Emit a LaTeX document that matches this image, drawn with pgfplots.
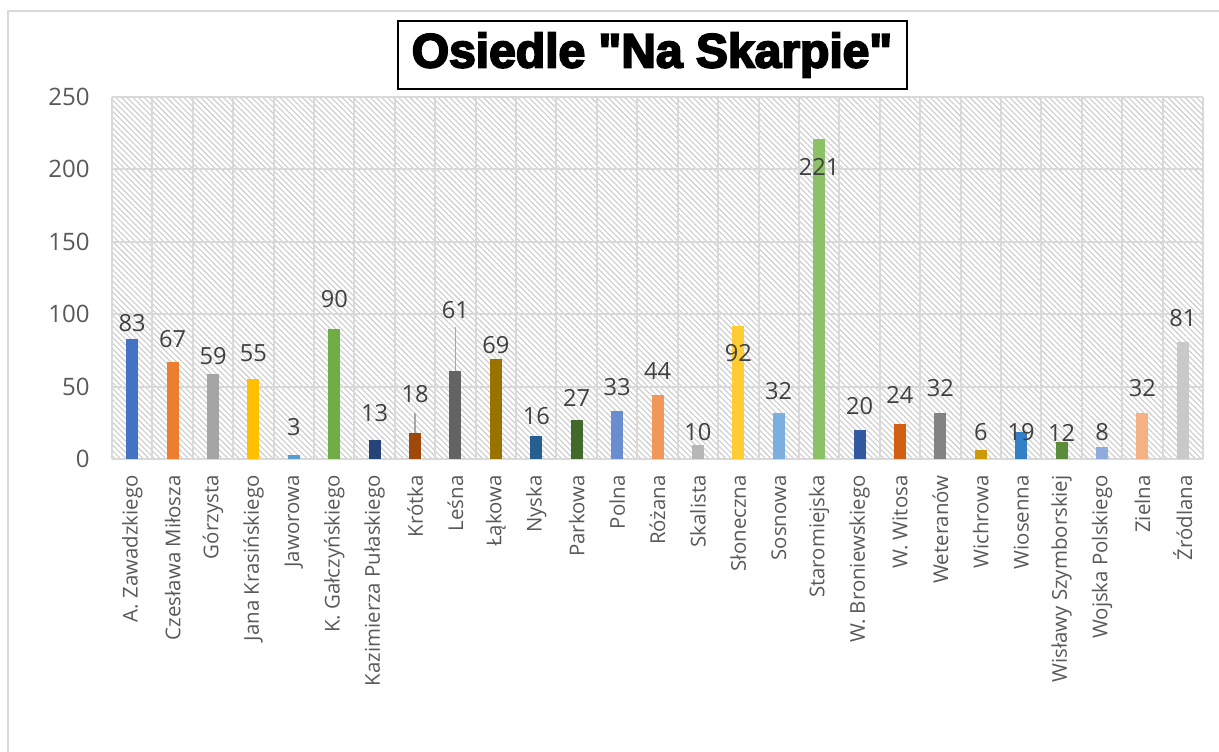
\documentclass[border=0pt]{standalone}
\usepackage{fontspec}
\setmainfont{Open Sans}
\newfontfamily\titlefont{Liberation Sans Bold}[FakeBold=4]
\usepackage{pgfplots}
\pgfplotsset{compat=1.18}
\usetikzlibrary{patterns.meta}
\definecolor{gridc}{HTML}{D9D9D9}
\definecolor{hatchc}{HTML}{CCCCCC}
\definecolor{tickc}{HTML}{595959}
\definecolor{labc}{HTML}{404040}
\definecolor{leadc}{HTML}{A6A6A6}
\definecolor{c1}{HTML}{4472C4}
\definecolor{c2}{HTML}{ED7D31}
\definecolor{c3}{HTML}{A5A5A5}
\definecolor{c4}{HTML}{FFC000}
\definecolor{c5}{HTML}{5B9BD5}
\definecolor{c6}{HTML}{70AD47}
\definecolor{c7}{HTML}{264478}
\definecolor{c8}{HTML}{9E480E}
\definecolor{c9}{HTML}{636363}
\definecolor{c10}{HTML}{997300}
\definecolor{c11}{HTML}{255E91}
\definecolor{c12}{HTML}{43682B}
\definecolor{c13}{HTML}{698ED0}
\definecolor{c14}{HTML}{F1975A}
\definecolor{c15}{HTML}{B7B7B7}
\definecolor{c16}{HTML}{FFCD33}
\definecolor{c17}{HTML}{7CAFDD}
\definecolor{c18}{HTML}{8CC168}
\definecolor{c19}{HTML}{335AA1}
\definecolor{c20}{HTML}{D26012}
\definecolor{c21}{HTML}{838383}
\definecolor{c22}{HTML}{CC9A06}
\definecolor{c23}{HTML}{3480C6}
\definecolor{c24}{HTML}{5B8C3A}
\definecolor{c25}{HTML}{8FAADC}
\definecolor{c26}{HTML}{F4B183}
\definecolor{c27}{HTML}{C9C9C9}
\newcommand\B[4]{\addplot[fill=#3, draw=none, nodes near coords style={yshift=#4}] coordinates {(#1,#2)};}
\begin{document}
\begin{tikzpicture}
\useasboundingbox (0,0) rectangle (609.5pt,-375.5pt);
\draw[color=gridc, line width=0.8pt] (4pt,-380pt) -- (4pt,-5.5pt) -- (615pt,-5.5pt);
\begin{axis}[
  at={(56pt,-229.5pt)}, anchor=south west,
  scale only axis, width=545.5pt, height=181pt,
  xmin=-0.5, xmax=26.5, ymin=0, ymax=250,
  ytick={0,50,...,250},
  xtick={0,...,26},
  xticklabels={A. Zawadzkiego, Czesława Miłosza, Górzysta, Jana Krasińskiego, Jaworowa, K. Gałczyńskiego, Kazimierza Pułaskiego, Krótka, Leśna, Łąkowa, Nyska, Parkowa, Polna, Różana, Skalista, Słoneczna, Sosnowa, Staromiejska, W. Broniewskiego, W. Witosa, Weteranów, Wichrowa, Wiosenna, Wisławy Szymborskiej, Wojska Polskiego, Zielna, Źródlana},
  minor xtick={-0.5,0.5,...,26.5},
  xminorgrids, ymajorgrids,
  grid style={draw=gridc, line width=1pt},
  minor grid style={draw=gridc, line width=1pt},
  axis line style={draw=none},
  major tick length=0pt, minor tick length=0pt,
  tick style={draw=none},
  axis background/.style={pattern={Lines[angle=-45,distance=2pt,line width=0.55pt]}, pattern color=hatchc},
  yticklabel style={font=\fontsize{12}{13}\selectfont, text=tickc, anchor=east, inner sep=0pt, xshift=-11pt},
  xticklabel style={yshift=-8pt, rotate=90, anchor=east, inner sep=0pt, font=\fontsize{10.2}{12}\selectfont, text=tickc},
  /pgf/number format/assume math mode=true,
  ybar, bar width=6pt, bar shift=0pt,
  nodes near coords,
  every node near coord/.append style={font=\fontsize{11.8}{13}\selectfont, text=labc, anchor=south, inner sep=0pt},
  clip=false,
]
\B{0}{83}{c1}{3.5pt}
\B{1}{67}{c2}{7pt}
\B{2}{59}{c3}{4pt}
\B{3}{55}{c4}{8.5pt}
\B{4}{3}{c5}{9.5pt}
\B{5}{90}{c6}{10.5pt}
\B{6}{13}{c7}{9pt}
\B{7}{18}{c8}{15pt}
\B{8}{61}{c9}{26pt}
\B{9}{69}{c10}{2.5pt}
\B{10}{16}{c11}{5.5pt}
\B{11}{27}{c12}{6.5pt}
\B{12}{33}{c13}{7.5pt}
\B{13}{44}{c14}{7.5pt}
\B{14}{10}{c15}{1.5pt}
\B{15}{92}{c16}{-18pt}
\B{16}{32}{c17}{6.5pt}
\B{17}{221}{c18}{-18.5pt}
\B{18}{20}{c19}{7.5pt}
\B{19}{24}{c20}{10pt}
\B{20}{32}{c21}{8pt}
\B{21}{6}{c22}{4.5pt}
\B{22}{19}{c23}{-5pt}
\B{23}{12}{c24}{0pt}
\B{24}{8}{c25}{3pt}
\B{25}{32}{c26}{8pt}
\B{26}{81}{c27}{7.5pt}
\draw[leadc, line width=0.6pt] (axis cs:7,18) -- (axis cs:7,31.8);
\draw[leadc, line width=0.6pt] (axis cs:8,61) -- (axis cs:8,91.2);
\end{axis}
\node[draw=black, line width=1pt, fill=white, minimum width=254.5pt, minimum height=34pt, inner sep=0pt, font=\titlefont\fontsize{24}{26}\selectfont] at (326pt,-27.5pt) {Osiedle "Na Skarpie"};
\end{tikzpicture}
\end{document}
